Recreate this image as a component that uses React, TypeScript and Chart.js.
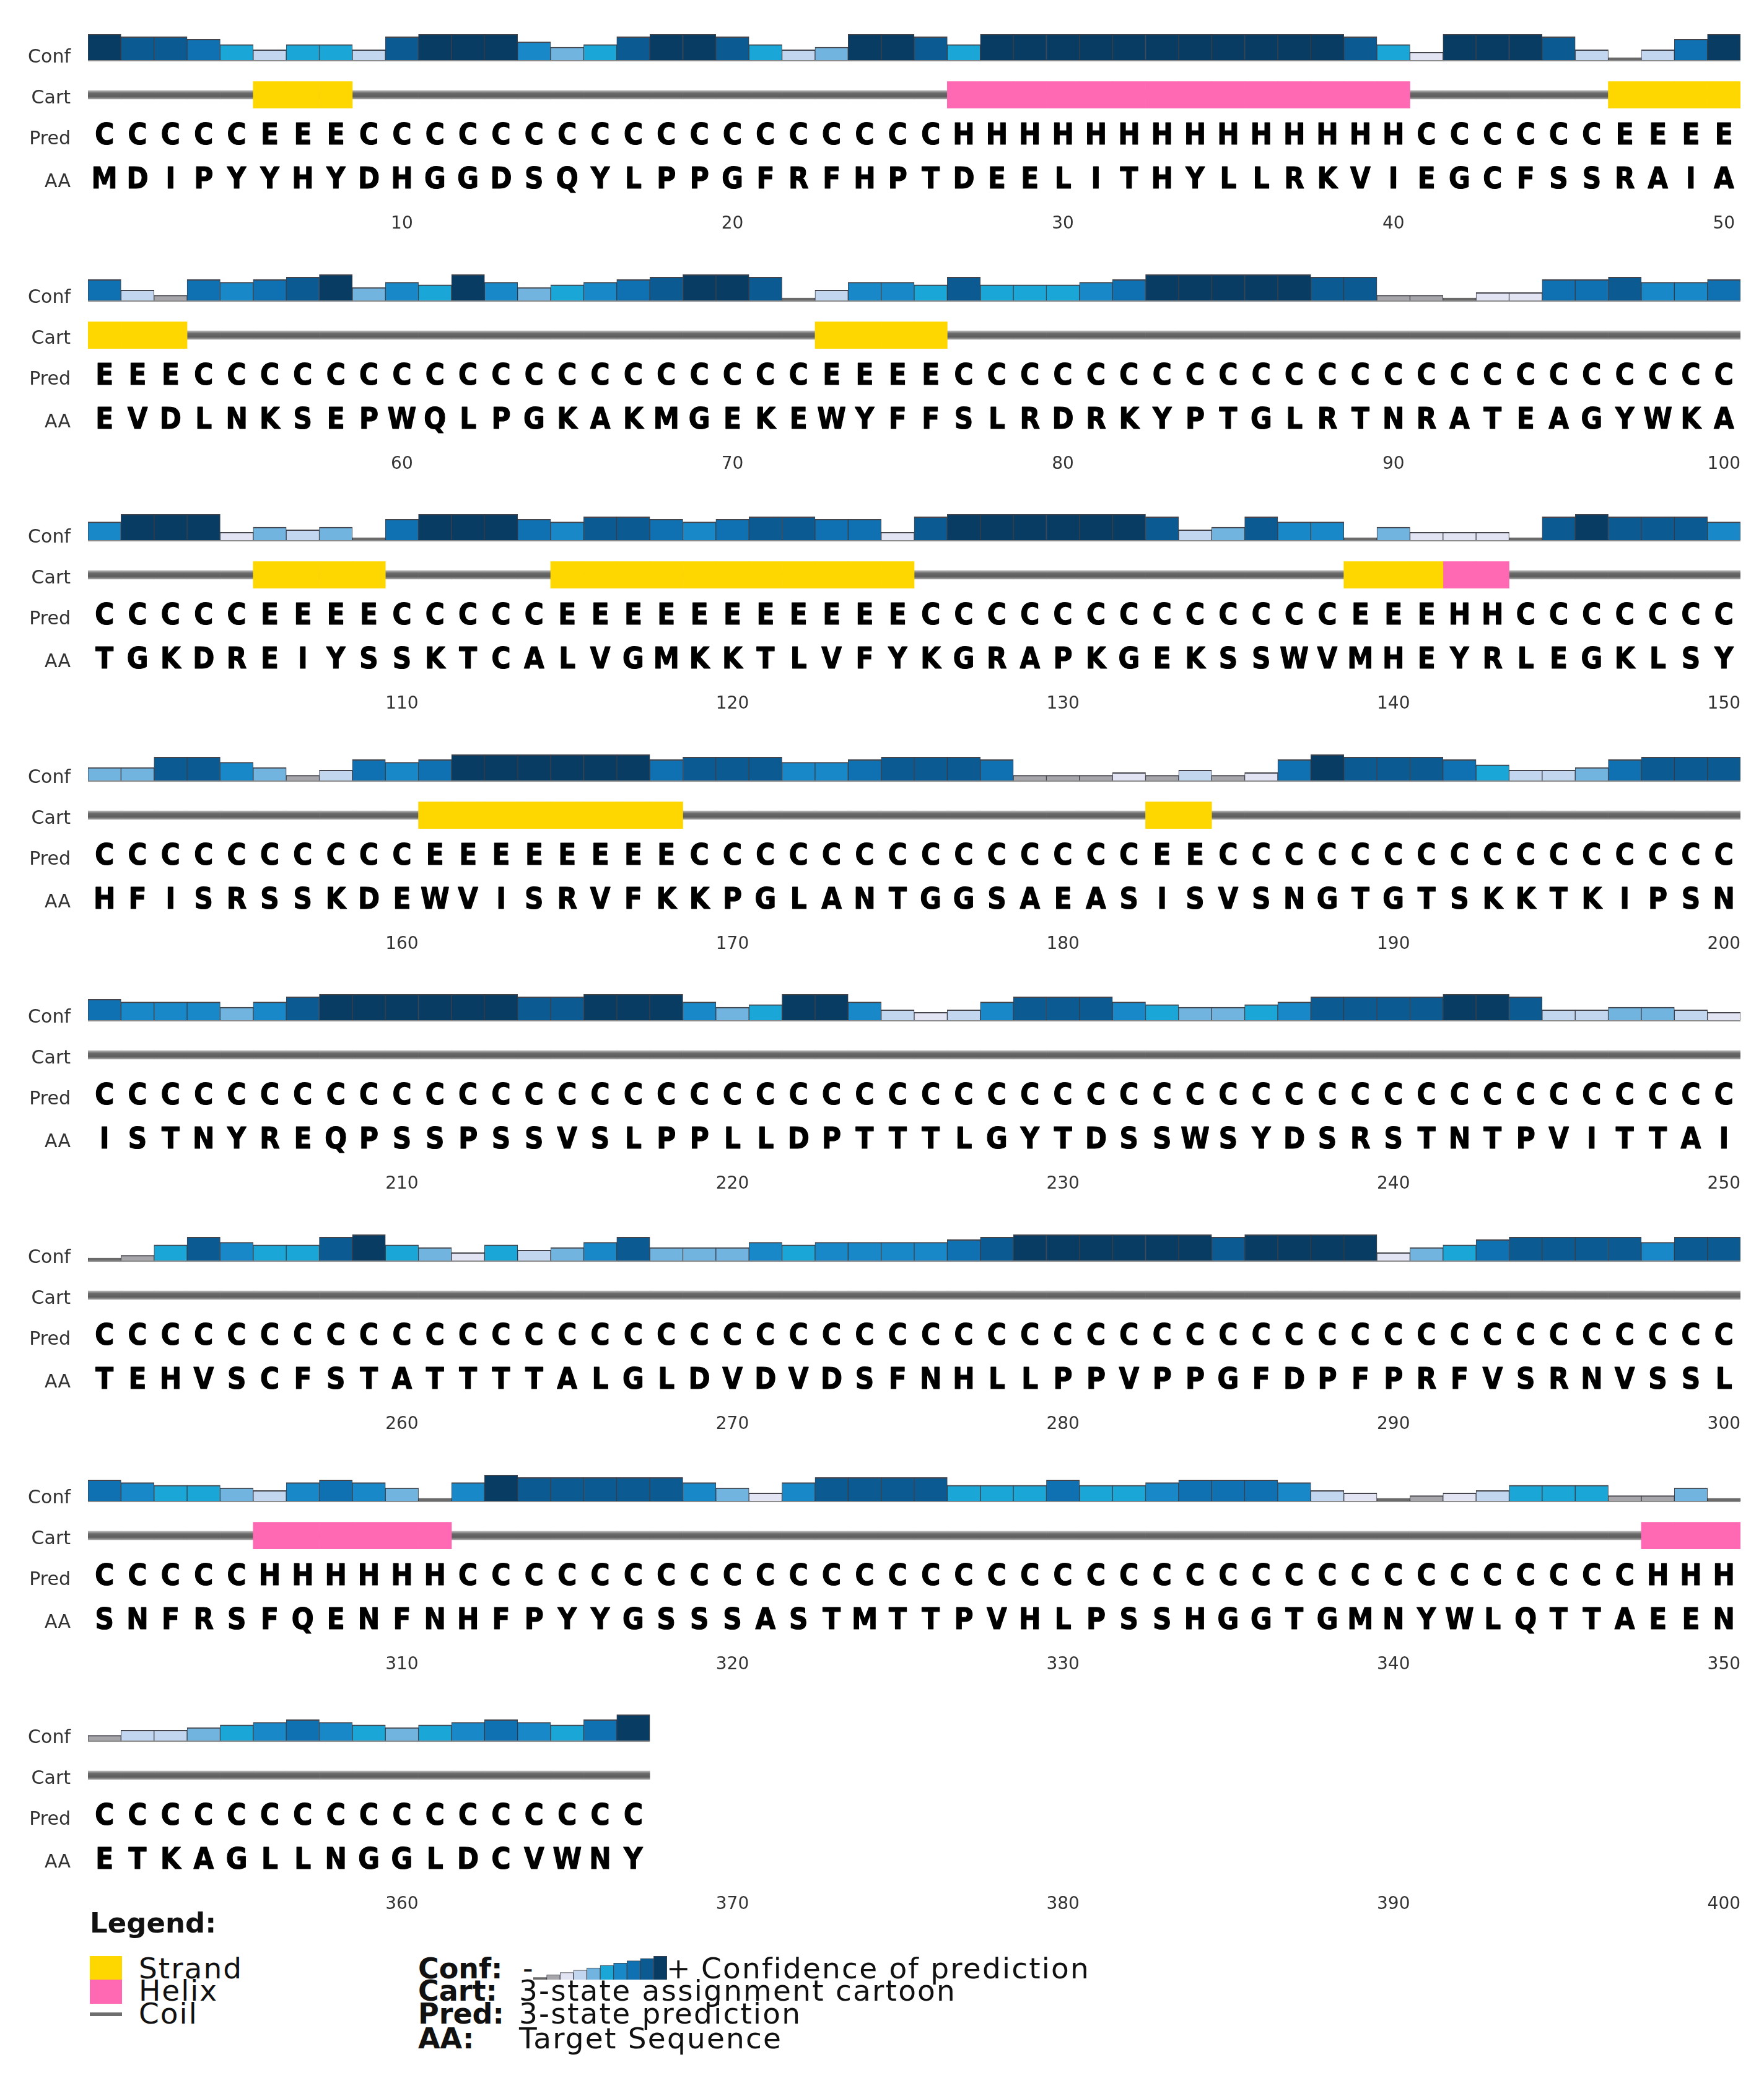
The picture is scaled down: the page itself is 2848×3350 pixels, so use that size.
import React, { useEffect, useRef } from "react";
import { Chart, registerables } from "chart.js";

Chart.register(...registerables);

const FONT = '"DejaVu Sans", "Liberation Sans", sans-serif';
Chart.defaults.font.family = FONT;

// ---------- DATA ----------
// Target sequence (AA), one string per row of 50 residues
const aaRows = [
  "MDIPYYHYDH" + "GGDSQYLPPG" + "FRFHPTDEEL" + "ITHYLLRKVI" + "EGCFSSRAIA",
  "EVDLNKSEPW" + "QLPGKAKMGE" + "KEWYFFSLRD" + "RKYPTGLRTN" + "RATEAGYWKA",
  "TGKDREIYSS" + "KTCALVGMKK" + "TLVFYKGRAP" + "KGEKSSWVMH" + "EYRLEGKLSY",
  "HFISRSSKDE" + "WVISRVFKKP" + "GLANTGGSAE" + "ASISVSNGTG" + "TSKKTKIPSN",
  "ISTNYREQPS" + "SPSSVSLPPL" + "LDPTTTLGYT" + "DSSWSYDSRS" + "TNTPVITTAI",
  "TEHVSCFSTA" + "TTTTALGLDV" + "DVDSFNHLLP" + "PVPPGFDPFP" + "RFVSRNVSSL",
  "SNFRSFQENF" + "NHFPYYGSSS" + "ASTMTTPVHL" + "PSSHGGTGMN" + "YWLQTTAEEN",
  "ETKAGLLNGG" + "LDCVWNY",
];

// 3-state prediction (Pred): C = coil, E = strand, H = helix
const predRows = [
  "CCCCCEEECC" + "CCCCCCCCCC" + "CCCCCCHHHH" + "HHHHHHHHHH" + "CCCCCCEEEE",
  "EEECCCCCCC" + "CCCCCCCCCC" + "CCEEEECCCC" + "CCCCCCCCCC" + "CCCCCCCCCC",
  "CCCCCEEEEC" + "CCCCEEEEEE" + "EEEEECCCCC" + "CCCCCCCCEE" + "EHHCCCCCCC",
  "CCCCCCCCCC" + "EEEEEEEECC" + "CCCCCCCCCC" + "CCEECCCCCC" + "CCCCCCCCCC",
  "CCCCCCCCCC" + "CCCCCCCCCC" + "CCCCCCCCCC" + "CCCCCCCCCC" + "CCCCCCCCCC",
  "CCCCCCCCCC" + "CCCCCCCCCC" + "CCCCCCCCCC" + "CCCCCCCCCC" + "CCCCCCCCCC",
  "CCCCCHHHHH" + "HCCCCCCCCC" + "CCCCCCCCCC" + "CCCCCCCCCC" + "CCCCCCCHHH",
  "CCCCCCCCCC" + "CCCCCCC",
];

// Confidence of prediction (0 = low ... 9 = high)
const confRow1 = [9, 8, 8, 7, 5, 3, 5, 5, 3, 8, 9, 9, 9, 6, 4, 5, 8, 9, 9, 8, 5, 3, 4, 9, 9, 8, 5, 9, 9, 9, 9, 9, 9, 9, 9, 9, 9, 9, 8, 5, 2, 9, 9, 9, 8, 3, 0, 3, 7, 9];
const confRow2 = [7, 3, 1, 7, 6, 7, 8, 9, 4, 6, 5, 9, 6, 4, 5, 6, 7, 8, 9, 9, 8, 0, 3, 6, 6, 5, 8, 5, 5, 5, 6, 7, 9, 9, 9, 9, 9, 8, 8, 1, 1, 0, 2, 2, 7, 7, 8, 6, 6, 7];
const confRow3 = [6, 9, 9, 9, 2, 4, 3, 4, 0, 7, 9, 9, 9, 7, 6, 8, 8, 7, 6, 7, 8, 8, 7, 7, 2, 8, 9, 9, 9, 9, 9, 9, 8, 3, 4, 8, 6, 6, 0, 4, 2, 2, 2, 0, 8, 9, 8, 8, 8, 6];
const confRow4 = [4, 4, 8, 8, 6, 4, 1, 3, 7, 6, 7, 9, 9, 9, 9, 9, 9, 7, 8, 8, 8, 6, 6, 7, 8, 8, 8, 7, 1, 1, 1, 2, 1, 3, 1, 2, 7, 9, 8, 8, 8, 7, 5, 3, 3, 4, 7, 8, 8, 8];
const confRow5 = [7, 6, 6, 6, 4, 6, 8, 9, 9, 9, 9, 9, 9, 8, 8, 9, 9, 9, 6, 4, 5, 9, 9, 6, 3, 2, 3, 6, 8, 8, 8, 6, 5, 4, 4, 5, 6, 8, 8, 8, 8, 9, 9, 8, 3, 3, 4, 4, 3, 2];
const confRow6 = [0, 1, 5, 8, 6, 5, 5, 8, 9, 5, 4, 2, 5, 3, 4, 6, 8, 4, 4, 4, 6, 5, 6, 6, 6, 6, 7, 8, 9, 9, 9, 9, 9, 9, 8, 9, 9, 9, 9, 2, 4, 5, 7, 8, 8, 8, 8, 6, 8, 8];
const confRow7 = [7, 6, 5, 5, 4, 3, 6, 7, 6, 4, 0, 6, 9, 8, 8, 8, 8, 8, 6, 4, 2, 6, 8, 8, 8, 8, 5, 5, 5, 7, 5, 5, 6, 7, 7, 7, 6, 3, 2, 0, 1, 2, 3, 5, 5, 5, 1, 1, 4, 0];
const confRow8 = [1, 3, 3, 4, 5, 6, 7, 6, 5, 4, 5, 6, 7, 6, 5, 7, 9];
const confRows = [confRow1, confRow2, confRow3, confRow4, confRow5, confRow6, confRow7, confRow8];

// First residue number of each row (x categories / tick labels)
const rowStarts = [1, 51, 101, 151, 201, 251, 301, 351];
const RESIDUES_PER_ROW = 50;

// Legend confidence scale
const legendLevels = [0, 1, 2, 3, 4, 5, 6, 7, 8, 9];

// Row labels
const rowLabels = ["Conf", "Cart", "Pred", "AA"];

// ---------- STYLE ----------
const confPalette = [
  "#6a6a6a", // 0
  "#a6a6aa", // 1
  "#e2e4f4", // 2
  "#c2d6f0", // 3
  "#72b4e0", // 4
  "#1ba6d8", // 5
  "#1888c8", // 6
  "#0f70b2", // 7
  "#0b5a92", // 8
  "#083c63", // 9
];
const STRAND_COLOR = "#FFD700";
const HELIX_COLOR = "#FF69B4";
const COIL_COLOR = "#6e6e6e";

const PAGE_W = 2832;
const ROW_PITCH = 387.6;
const ROW_H = 400;

function coilGradient(ctx: any) {
  const chart = ctx.chart;
  const s = chart.scales && chart.scales.yCart;
  if (!s || !chart.chartArea) return COIL_COLOR;
  const y0 = s.getPixelForValue(0.32);
  const y1 = s.getPixelForValue(-0.32);
  if (!isFinite(y0) || !isFinite(y1)) return COIL_COLOR;
  const g = chart.ctx.createLinearGradient(0, y0, 0, y1);
  g.addColorStop(0, "#b8b8b8");
  g.addColorStop(0.3, "#6a6a6a");
  g.addColorStop(0.7, "#5c5c5c");
  g.addColorStop(1, "#a8a8a8");
  return g;
}

function SequenceRow({ index }: { index: number }) {
  const ref = useRef<HTMLCanvasElement>(null);

  useEffect(() => {
    const canvas = ref.current;
    if (!canvas) return;
    const start = rowStarts[index];
    const labels = Array.from({ length: RESIDUES_PER_ROW }, (_, i) => String(start + i));
    const aa = aaRows[index].split("");
    const pred = predRows[index].split("");
    const conf = confRows[index];

    const confData = conf.map((l) => [-1, l]);
    const coilData = pred.map(() => [-0.32, 0.32]);
    const strandData = pred.map((p) => (p === "E" ? [-1, 1] : null));
    const helixData = pred.map((p) => (p === "H" ? [-1, 1] : null));

    const drawLetter = (ctx: any, ch: string, x: number, y: number) => {
      ctx.save();
      ctx.translate(x, y);
      ctx.scale(0.92, 1.04);
      ctx.strokeText(ch, 0, 0);
      ctx.fillText(ch, 0, 0);
      ctx.restore();
    };

    const rowPlugin = {
      id: "rowText",
      beforeDatasetsDraw(chart: any) {
        const { ctx, scales } = chart;
        const x = scales.x;
        const yConf = scales.yConf;
        const w = x.width / RESIDUES_PER_ROW;
        const left = x.getPixelForValue(0) - w / 2;
        const right = x.getPixelForValue(conf.length - 1) + w / 2;
        ctx.save();
        ctx.fillStyle = "#8c8c8c";
        ctx.fillRect(left, yConf.bottom - 1, right - left, 3);
        ctx.restore();
      },
      afterDatasetsDraw(chart: any) {
        const { ctx, scales, chartArea } = chart;
        const x = scales.x;
        const predY = scales.yPred.getPixelForValue(0);
        const aaY = scales.yAA.getPixelForValue(0);
        const cartY = scales.yCart.getPixelForValue(0);
        const confBottom = scales.yConf.bottom;
        ctx.save();
        ctx.fillStyle = "#000";
        ctx.strokeStyle = "#000";
        ctx.lineWidth = 1.2;
        ctx.lineJoin = "round";
        ctx.textAlign = "center";
        ctx.textBaseline = "alphabetic";
        ctx.font = `bold 46px ${FONT}`;
        pred.forEach((p, i) => drawLetter(ctx, p, x.getPixelForValue(i), predY + 17));
        aa.forEach((a, i) => drawLetter(ctx, a, x.getPixelForValue(i), aaY + 17));
        // row labels
        ctx.font = `30px ${FONT}`;
        ctx.fillStyle = "#333";
        ctx.textAlign = "right";
        const lx = chartArea.left - 28;
        ctx.fillText(rowLabels[0], lx, confBottom + 4);
        ctx.fillText(rowLabels[1], lx, cartY + 14);
        ctx.fillText(rowLabels[2], lx, predY + 17);
        ctx.fillText(rowLabels[3], lx, aaY + 15);
        ctx.restore();
      },
    };

    const common = {
      grouped: false,
      barPercentage: 1,
      categoryPercentage: 1,
    };

    const chart = new Chart(canvas, {
      type: "bar",
      data: {
        labels,
        datasets: [
          {
            label: "Conf",
            data: confData as any,
            yAxisID: "yConf",
            backgroundColor: conf.map((l) => confPalette[l]),
            borderColor: "rgba(35,35,45,0.85)",
            borderWidth: { top: 2, left: 1, right: 1, bottom: 0 },
            borderSkipped: "start",
            order: 0,
            ...common,
          },
          {
            label: "Coil",
            data: coilData as any,
            yAxisID: "yCart",
            backgroundColor: coilGradient,
            borderWidth: 0,
            order: 3,
            ...common,
          },
          {
            label: "Strand",
            data: strandData as any,
            yAxisID: "yCart",
            backgroundColor: STRAND_COLOR,
            borderWidth: 0,
            order: 1,
            ...common,
          },
          {
            label: "Helix",
            data: helixData as any,
            yAxisID: "yCart",
            backgroundColor: HELIX_COLOR,
            borderWidth: 0,
            order: 1,
            ...common,
          },
        ],
      },
      options: {
        animation: false,
        responsive: false,
        maintainAspectRatio: false,
        devicePixelRatio: 1,
        events: [],
        layout: { padding: { left: 134, right: 30, top: 47, bottom: 13 } },
        plugins: { legend: { display: false }, tooltip: { enabled: false } },
        scales: {
          x: {
            type: "category",
            offset: true,
            grid: { display: false, drawTicks: false },
            border: { display: false },
            ticks: {
              autoSkip: false,
              maxRotation: 0,
              minRotation: 0,
              padding: 16,
              color: "#333",
              font: { family: FONT, size: 28 },
              callback: (_v: any, i: number) => ((start + i) % 10 === 0 ? String(start + i) : ""),
            },
          },
          yConf: { type: "linear", position: "right", stack: "row", stackWeight: 42, min: -1, max: 9, display: false },
          yCart: { type: "linear", position: "right", stack: "row", stackWeight: 88, min: -1.49, max: 2.6, display: false },
          yPred: { type: "linear", position: "right", stack: "row", stackWeight: 66, min: -1.06, max: 0.94, display: false },
          yAA: { type: "linear", position: "right", stack: "row", stackWeight: 78, min: -1.08, max: 0.92, display: false },
        } as any,
      },
      plugins: [rowPlugin],
    });
    return () => chart.destroy();
  }, [index]);

  return (
    <canvas
      ref={ref}
      width={PAGE_W}
      height={ROW_H}
      style={{ position: "absolute", left: 0, top: Math.round(ROW_PITCH * index), width: PAGE_W, height: ROW_H }}
    />
  );
}

function ConfScale() {
  const ref = useRef<HTMLCanvasElement>(null);
  useEffect(() => {
    const canvas = ref.current;
    if (!canvas) return;
    const chart = new Chart(canvas, {
      type: "bar",
      data: {
        labels: legendLevels.map(String),
        datasets: [
          {
            data: legendLevels.map((l) => [-1, l]) as any,
            backgroundColor: legendLevels.map((l) => confPalette[l]),
            borderColor: "rgba(35,35,45,0.85)",
            borderWidth: { top: 1, left: 1, right: 1, bottom: 0 },
            borderSkipped: "start",
            barPercentage: 1,
            categoryPercentage: 1,
          },
        ],
      },
      options: {
        animation: false,
        responsive: false,
        maintainAspectRatio: false,
        devicePixelRatio: 1,
        events: [],
        layout: { padding: 0 },
        plugins: { legend: { display: false }, tooltip: { enabled: false } },
        scales: {
          x: { display: false },
          y: { display: false, min: -1, max: 9 },
        },
      },
    });
    return () => chart.destroy();
  }, []);
  return (
    <canvas
      ref={ref}
      width={216}
      height={38}
      style={{ position: "absolute", left: 853, top: 3150, width: 216, height: 38 }}
    />
  );
}

const txt = (text: string, left: number, centerY: number, size: number, bold = false, spacing = 0) => (
  <div
    key={text + left + centerY}
    style={{
      position: "absolute",
      left,
      top: centerY - 8 - 0.48 * size,
      fontSize: size,
      lineHeight: 1,
      fontWeight: bold ? "bold" : "normal",
      fontFamily: FONT,
      letterSpacing: spacing,
      color: "#111",
      whiteSpace: "nowrap",
    }}
  >
    {text}
  </div>
);

function Legend() {
  return (
    <>
      {txt("Legend:", 137, 3104, 45, true)}
      <div style={{ position: "absolute", left: 137, top: 3150, width: 52, height: 38, background: STRAND_COLOR }} />
      <div style={{ position: "absolute", left: 137, top: 3188, width: 52, height: 39, background: HELIX_COLOR }} />
      <div style={{ position: "absolute", left: 137, top: 3241, width: 52, height: 6, background: COIL_COLOR }} />
      {txt("Strand", 216, 3177, 47, false, 2)}
      {txt("Helix", 216, 3213, 47, false, 2)}
      {txt("Coil", 216, 3250, 47, false, 2)}
      {txt("Conf:", 667, 3177, 46, true)}
      {txt("-", 836, 3177, 46)}
      <ConfScale />
      {txt("+", 1068, 3177, 46)}
      {txt("Confidence of prediction", 1124, 3177, 47, false, 2.2)}
      {txt("Cart:", 667, 3213, 46, true)}
      {txt("3-state assignment cartoon", 830, 3213, 47, false, 2.2)}
      {txt("Pred:", 667, 3250, 46, true)}
      {txt("3-state prediction", 830, 3250, 47, false, 2.2)}
      {txt("AA:", 667, 3290, 46, true)}
      {txt("Target Sequence", 830, 3290, 47, false, 2.2)}
    </>
  );
}

export default function App() {
  return (
    <div style={{ position: "relative", width: PAGE_W, height: 3334, background: "#fff", fontFamily: FONT }}>
      {rowStarts.map((_, i) => (
        <SequenceRow key={i} index={i} />
      ))}
      <Legend />
    </div>
  );
}
